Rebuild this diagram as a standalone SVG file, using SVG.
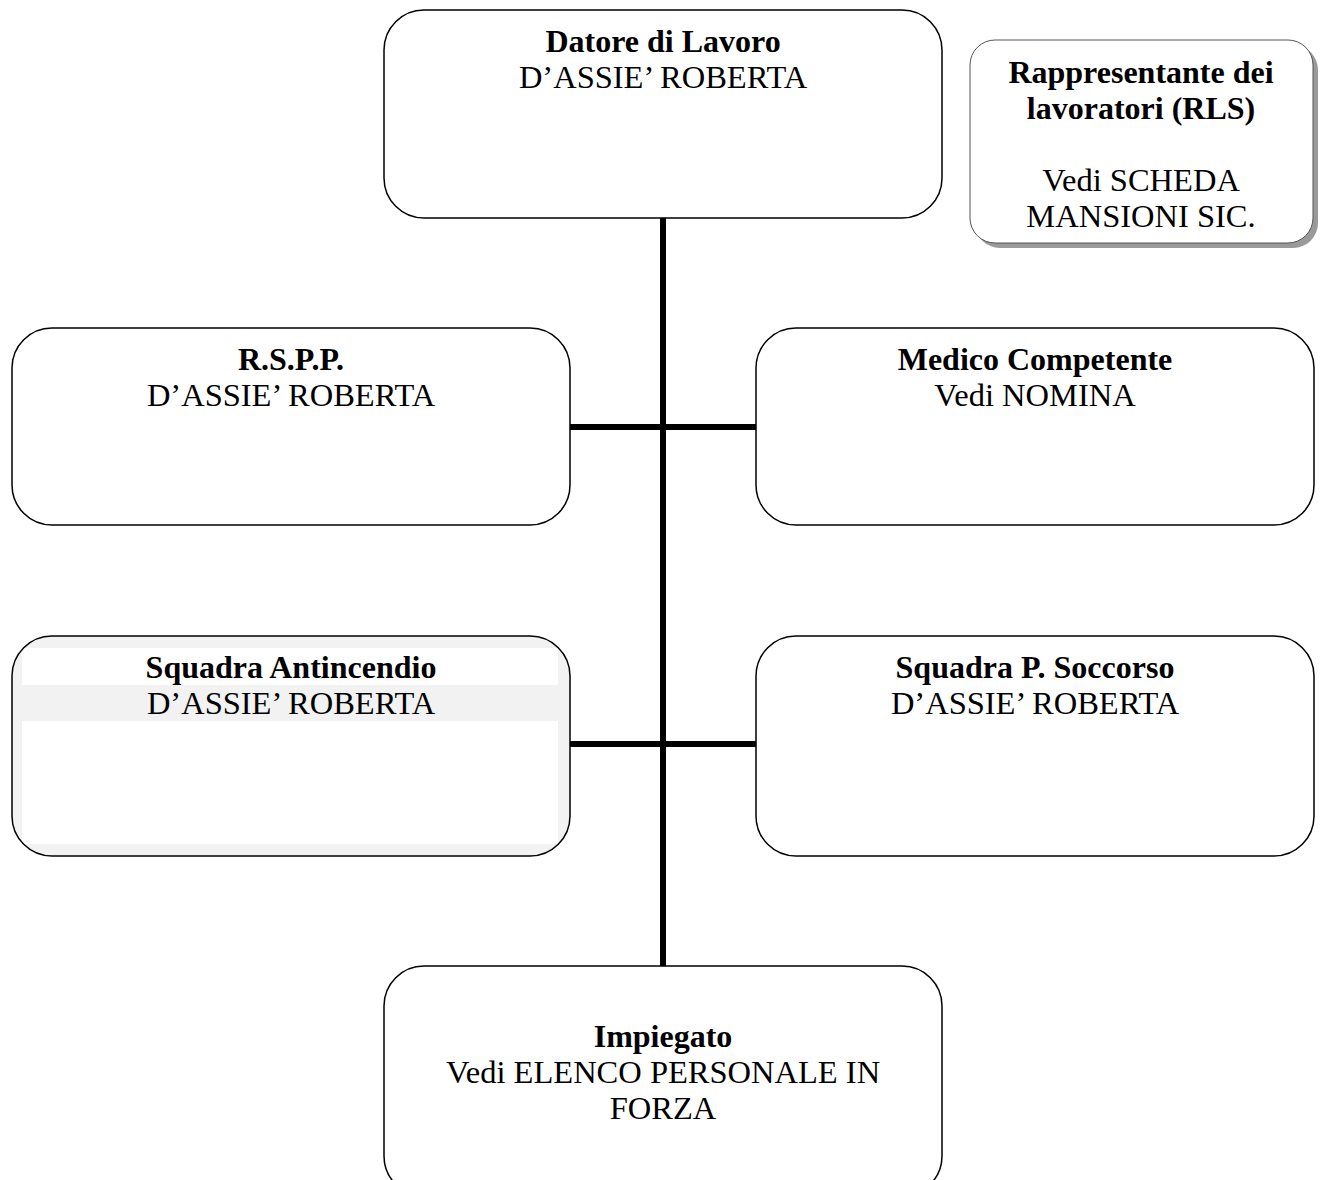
<svg xmlns="http://www.w3.org/2000/svg" width="1322" height="1180" viewBox="0 0 1322 1180">
<defs>
<style>
.box{fill:#fff;stroke:#000;stroke-width:1.5}
.t{font-family:"Liberation Serif","Times New Roman",serif;font-size:32.5px;fill:#000;text-anchor:middle}
.b{font-weight:bold;font-size:32px}
.conn{stroke:#000;stroke-width:6;fill:none}
</style>
</defs>
<rect width="1322" height="1180" fill="#fff"/>
<g id="connectors">
<line class="conn" x1="663" y1="218" x2="663" y2="966"/>
<line class="conn" x1="570" y1="427" x2="756" y2="427"/>
<line class="conn" x1="570" y1="744" x2="756" y2="744"/>
</g>
<g id="datore">
<rect class="box" x="384" y="10" width="558" height="208" rx="40" ry="40"/>
<text class="t b" x="663" y="52">Datore di Lavoro</text>
<text class="t" x="663" y="88">D’ASSIE’ ROBERTA</text>
</g>
<g id="rls">
<rect x="975" y="45" width="343" height="203" rx="25" ry="25" fill="#9a9a9a"/>
<rect x="970" y="40" width="343" height="203" rx="25" ry="25" fill="#fff" stroke="#555" stroke-width="1"/>
<text class="t b" x="1141" y="83">Rappresentante dei</text>
<text class="t b" x="1141" y="119">lavoratori (RLS)</text>
<text class="t" x="1141" y="191">Vedi SCHEDA</text>
<text class="t" x="1141" y="227">MANSIONI SIC.</text>
</g>
<g id="rspp">
<rect class="box" x="12" y="328" width="558" height="197" rx="40" ry="40"/>
<text class="t b" x="291" y="370">R.S.P.P.</text>
<text class="t" x="291" y="406">D’ASSIE’ ROBERTA</text>
</g>
<g id="medico">
<rect class="box" x="756" y="328" width="558" height="197" rx="40" ry="40"/>
<text class="t b" x="1035" y="370">Medico Competente</text>
<text class="t" x="1035" y="406">Vedi NOMINA</text>
</g>
<g id="antincendio">
<rect x="12" y="636" width="558" height="220" rx="40" ry="40" fill="#f2f2f2"/>
<rect x="22" y="648" width="536" height="37" fill="#fff"/>
<rect x="22" y="721" width="536" height="123" fill="#fff"/>
<rect x="12" y="636" width="558" height="220" rx="40" ry="40" fill="none" stroke="#000" stroke-width="1.5"/>
<text class="t b" x="291" y="678">Squadra Antincendio</text>
<text class="t" x="291" y="714">D’ASSIE’ ROBERTA</text>
</g>
<g id="soccorso">
<rect class="box" x="756" y="636" width="558" height="220" rx="40" ry="40"/>
<text class="t b" x="1035" y="678">Squadra P. Soccorso</text>
<text class="t" x="1035" y="714">D’ASSIE’ ROBERTA</text>
</g>
<g id="impiegato">
<rect class="box" x="384" y="966" width="558" height="230" rx="40" ry="40"/>
<text class="t b" x="663" y="1047">Impiegato</text>
<text class="t" x="663" y="1083">Vedi ELENCO PERSONALE IN</text>
<text class="t" x="663" y="1119">FORZA</text>
</g>
</svg>
